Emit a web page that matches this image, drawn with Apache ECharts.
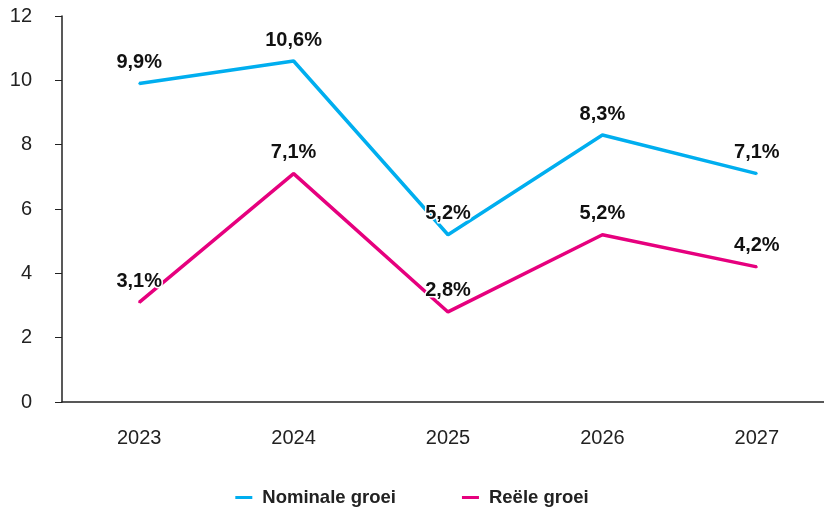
<!DOCTYPE html>
<html><head><meta charset="utf-8">
<script src="https://cdn.jsdelivr.net/npm/echarts@6/dist/echarts.min.js"></script>
<style>html,body{margin:0;padding:0;background:#fff}#c{width:824px;height:510px}</style>
</head><body><div id="c"></div>
<script>
const categories = ['2023','2024','2025','2026','2027'];
const nominal = [9.9, 10.6, 5.2, 8.3, 7.1];
const real = [3.1, 7.1, 2.8, 5.2, 4.2];
const yTicks = [0, 2, 4, 6, 8, 10, 12];

const chart = echarts.init(document.getElementById('c'));
const font = 'Liberation Sans, Arial, Helvetica, sans-serif';
const lbl = {
  show: true, position: 'top', distance: 10,
  color: '#111', fontSize: 20, fontWeight: 'bold', fontFamily: font,
  textBorderColor: '#fff', textBorderWidth: 3,
  formatter: p => Number(p.value).toFixed(1).replace('.', ',') + '%'
};
chart.setOption({
  animation: false,
  grid: { left: 62, width: 772, top: 16, bottom: 108, outerBoundsMode: 'none', containLabel: false },
  legend: {
    top: 483, left: 'center', itemGap: 66, itemWidth: 17, itemHeight: 3,
    icon: 'rect',
    textStyle: { fontSize: 18.5, fontWeight: 'bold', color: '#222', fontFamily: font, padding: [0, 0, 0, 5] },
    data: ['Nominale groei', 'Reële groei']
  },
  xAxis: {
    type: 'category', data: categories, boundaryGap: true,
    axisLine: { lineStyle: { color: '#222', width: 1.5 } },
    axisTick: { show: false },
    axisLabel: { color: '#222', fontSize: 20, fontFamily: font, margin: 26 }
  },
  yAxis: {
    type: 'value', min: 0, max: 12, interval: 2,
    axisLine: { show: true, lineStyle: { color: '#222', width: 1.5 } },
    axisTick: { show: true, length: 7, lineStyle: { color: '#222' } },
    splitLine: { show: false },
    axisLabel: { color: '#222', fontSize: 20, fontFamily: font, margin: 30,
      formatter: v => yTicks.includes(v) ? String(v) : '' }
  },
  series: [
    { name: 'Nominale groei', type: 'line', data: nominal, color: '#00AEEF',
      symbol: 'circle', symbolSize: 2, showSymbol: true,
      lineStyle: { color: '#00AEEF', width: 3.5 }, itemStyle: { color: '#00AEEF' }, label: lbl, z: 2 },
    { name: 'Reële groei', type: 'line', data: real, color: '#E6007E',
      symbol: 'circle', symbolSize: 2, showSymbol: true,
      lineStyle: { color: '#E6007E', width: 3.5 }, itemStyle: { color: '#E6007E' }, label: lbl, z: 3 }
  ]
});
</script></body></html>
